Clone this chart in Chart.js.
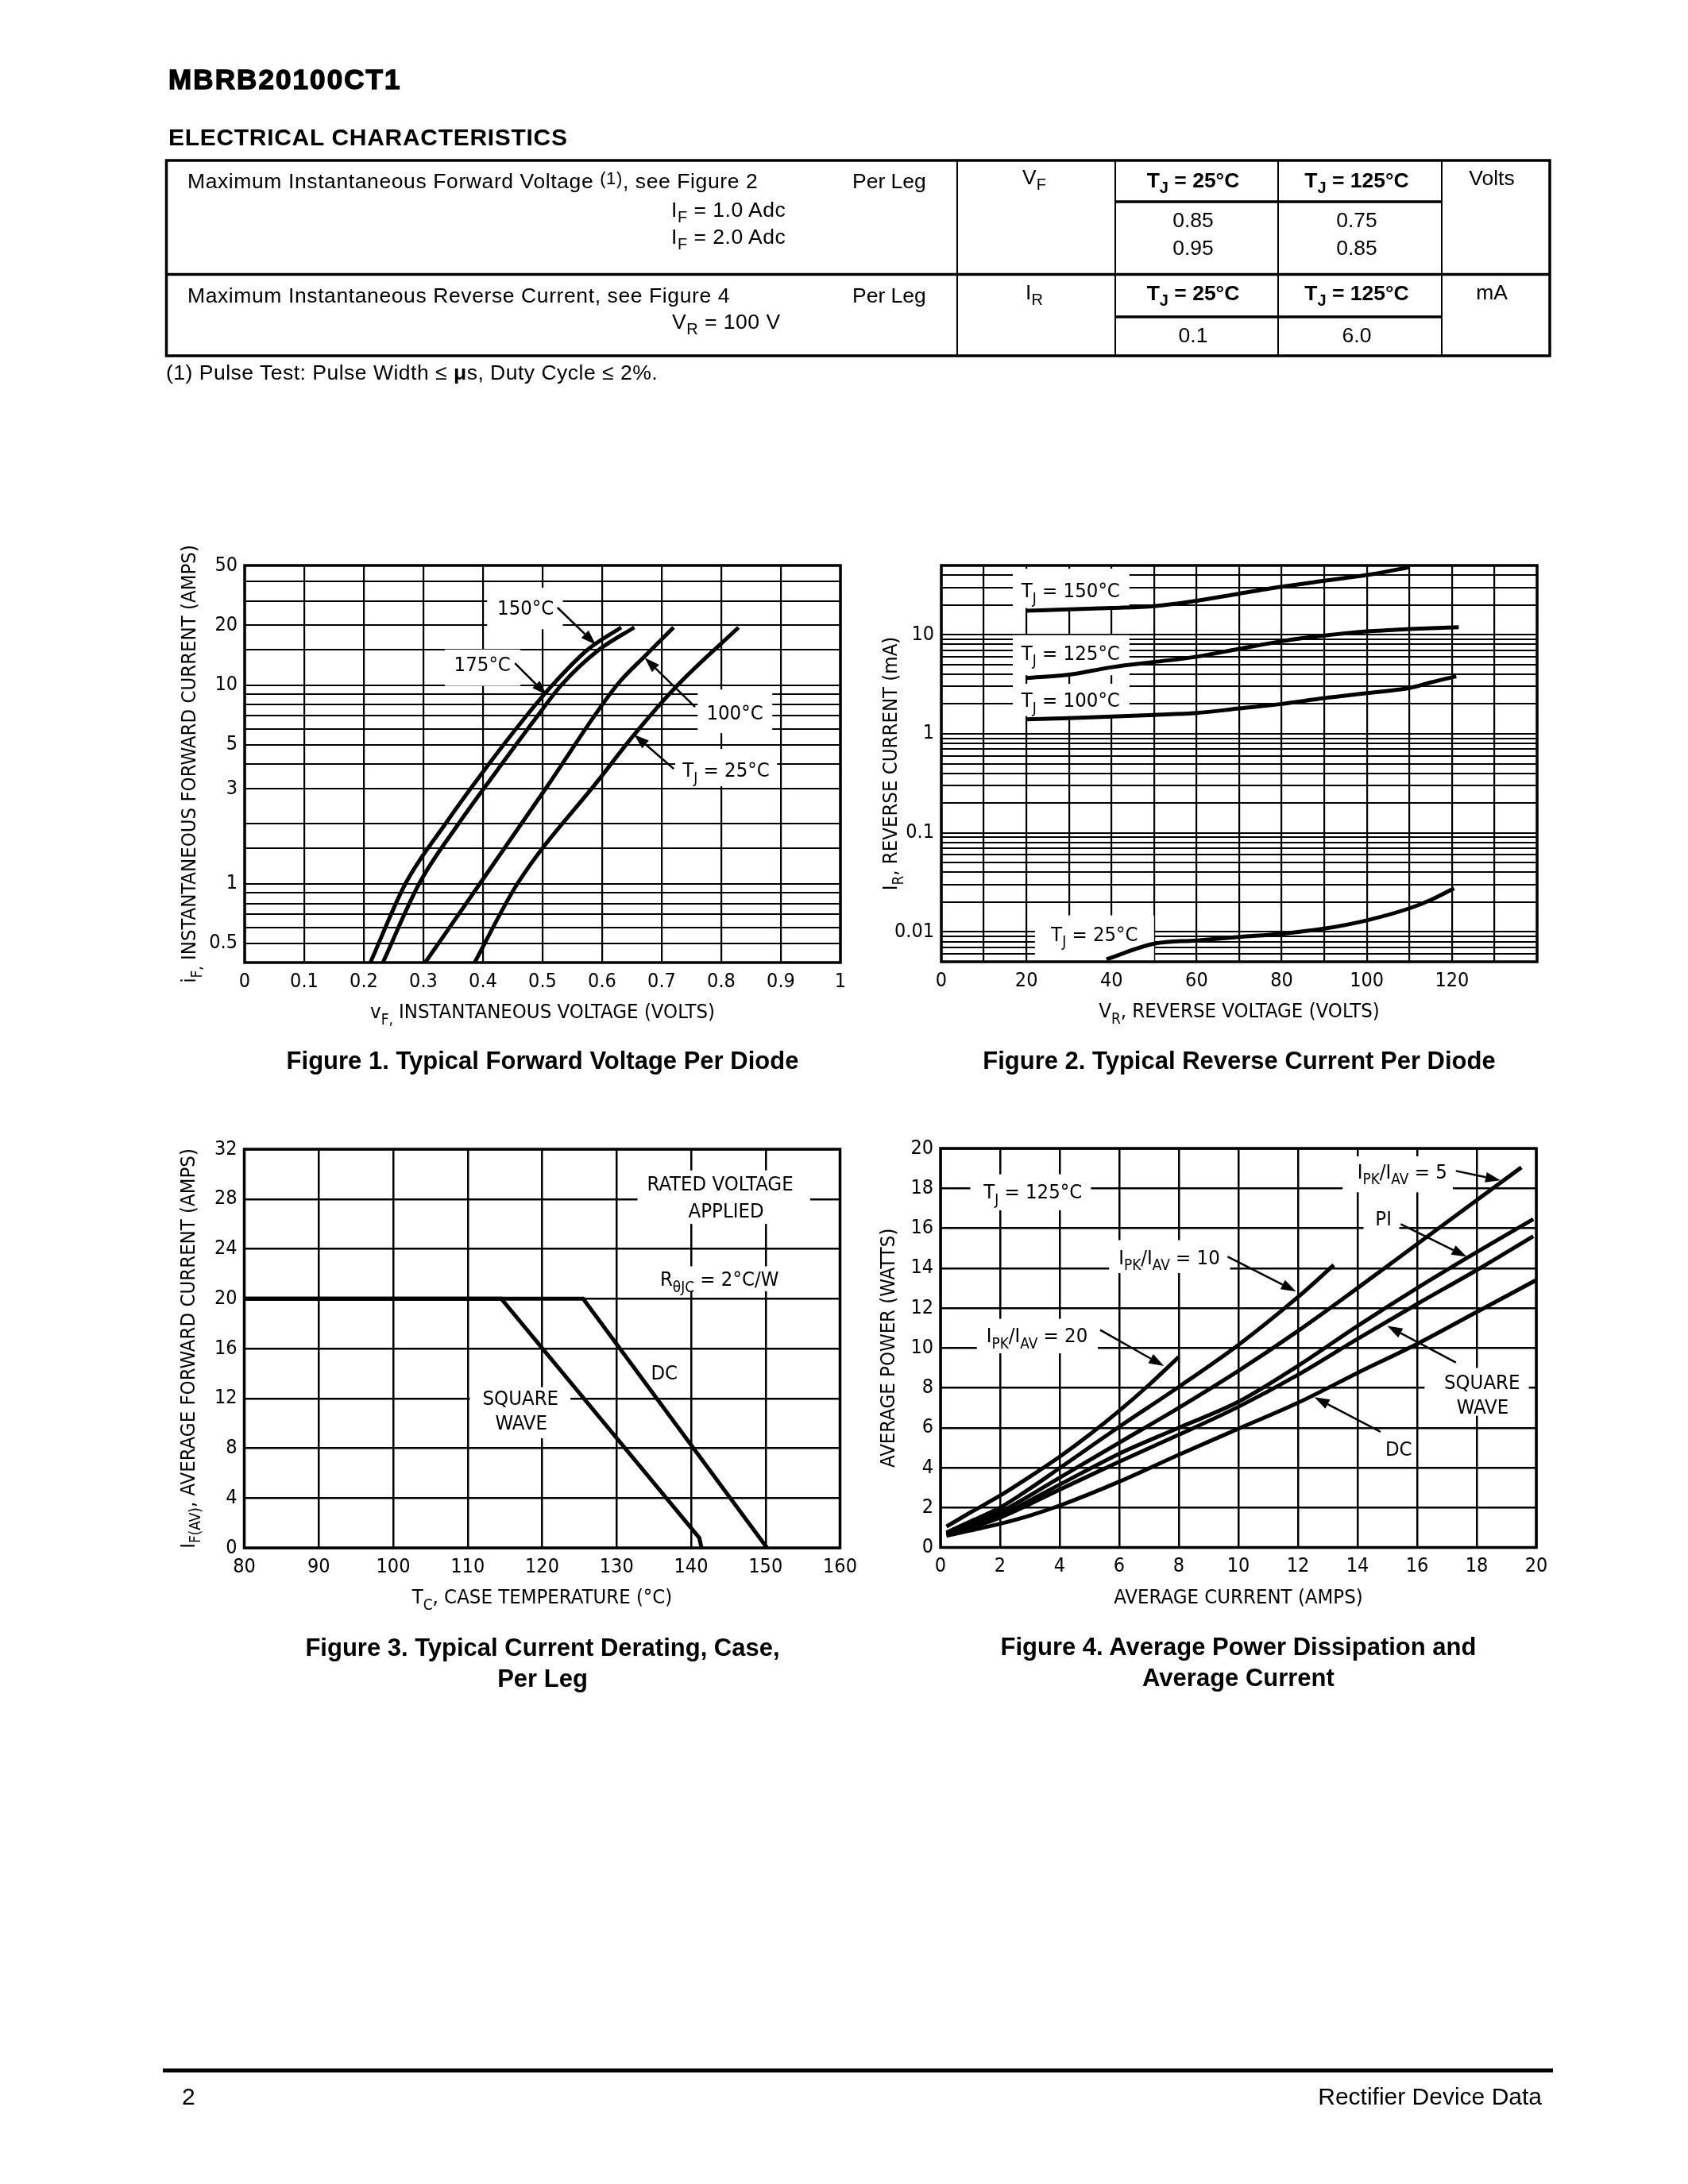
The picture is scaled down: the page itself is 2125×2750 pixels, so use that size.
<!DOCTYPE html>
<html>
<head>
<meta charset="utf-8">
<script src="https://cdn.jsdelivr.net/npm/chart.js@4.4.0/dist/chart.umd.min.js"></script>
<style>
html, body { margin: 0; padding: 0; background: #fff; }
#page { position: relative; width: 2125px; height: 2750px; overflow: hidden; background: #fff; }
#page canvas { position: absolute; }
#page svg { position: absolute; left: 0; top: 0; }
#page svg text { font-family: "Liberation Sans", Arial, Helvetica, sans-serif; fill: #000; }
</style>
</head>
<body>
<div id="page">
<canvas id="fig1"></canvas>
<canvas id="fig2"></canvas>
<canvas id="fig3"></canvas>
<canvas id="fig4"></canvas>
<svg width="2125" height="2750" viewBox="0 0 2125 2750">
  <text x="212" y="112" font-size="35" font-weight="bold" letter-spacing="2.1" stroke="#000" stroke-width="1.4">MBRB20100CT1</text>
  <text x="212" y="182.5" font-size="30" font-weight="bold" letter-spacing="0.7">ELECTRICAL CHARACTERISTICS</text>

  <g stroke="#000" fill="none">
    <rect x="209.5" y="202" width="1741.5" height="246" stroke-width="3.5"/>
    <line x1="209.5" y1="345.5" x2="1951" y2="345.5" stroke-width="3.5"/>
    <line x1="1205" y1="202" x2="1205" y2="448" stroke-width="2"/>
    <line x1="1404" y1="202" x2="1404" y2="448" stroke-width="2"/>
    <line x1="1609" y1="202" x2="1609" y2="448" stroke-width="2"/>
    <line x1="1815" y1="202" x2="1815" y2="448" stroke-width="2"/>
    <line x1="1404" y1="254" x2="1815" y2="254" stroke-width="3.5"/>
    <line x1="1404" y1="399" x2="1815" y2="399" stroke-width="3.5"/>
  </g>

  <g font-size="26.5">
    <text x="236" y="237" letter-spacing="0.6">Maximum Instantaneous Forward Voltage <tspan font-size="22" dy="-5">(1)</tspan><tspan dy="5">, see Figure 2</tspan></text>
    <text x="1073" y="237">Per Leg</text>
    <text x="845" y="273" letter-spacing="0.5">I<tspan font-size="20" dy="7">F</tspan><tspan dy="-7"> = 1.0 Adc</tspan></text>
    <text x="845" y="307" letter-spacing="0.5">I<tspan font-size="20" dy="7">F</tspan><tspan dy="-7"> = 2.0 Adc</tspan></text>
    <text x="1302" y="232" text-anchor="middle">V<tspan font-size="20" dy="7">F</tspan></text>
    <text x="1502" y="236" text-anchor="middle" font-weight="bold">T<tspan font-size="20" dy="7">J</tspan><tspan dy="-7"> = 25°C</tspan></text>
    <text x="1708" y="236" text-anchor="middle" font-weight="bold">T<tspan font-size="20" dy="7">J</tspan><tspan dy="-7"> = 125°C</tspan></text>
    <text x="1878" y="233" text-anchor="middle">Volts</text>
    <text x="1502" y="286" text-anchor="middle">0.85</text>
    <text x="1502" y="321" text-anchor="middle">0.95</text>
    <text x="1708" y="286" text-anchor="middle">0.75</text>
    <text x="1708" y="321" text-anchor="middle">0.85</text>

    <text x="236" y="381" letter-spacing="0.6">Maximum Instantaneous Reverse Current, see Figure 4</text>
    <text x="1073" y="381">Per Leg</text>
    <text x="846" y="414" letter-spacing="0.5">V<tspan font-size="20" dy="7">R</tspan><tspan dy="-7"> = 100 V</tspan></text>
    <text x="1302" y="377" text-anchor="middle">I<tspan font-size="20" dy="7">R</tspan></text>
    <text x="1502" y="378" text-anchor="middle" font-weight="bold">T<tspan font-size="20" dy="7">J</tspan><tspan dy="-7"> = 25°C</tspan></text>
    <text x="1708" y="378" text-anchor="middle" font-weight="bold">T<tspan font-size="20" dy="7">J</tspan><tspan dy="-7"> = 125°C</tspan></text>
    <text x="1878" y="377" text-anchor="middle">mA</text>
    <text x="1502" y="431" text-anchor="middle">0.1</text>
    <text x="1708" y="431" text-anchor="middle">6.0</text>

    <text x="209" y="478" letter-spacing="0.5">(1) Pulse Test: Pulse Width ≤ <tspan font-weight="bold">μ</tspan>s, Duty Cycle ≤ 2%.</text>
  </g>

  <g font-size="31" font-weight="bold" text-anchor="middle">
    <text x="683" y="1346">Figure 1. Typical Forward Voltage Per Diode</text>
    <text x="1560" y="1346">Figure 2. Typical Reverse Current Per Diode</text>
    <text x="683" y="2085">Figure 3. Typical Current Derating, Case,</text>
    <text x="683" y="2124">Per Leg</text>
    <text x="1559" y="2084">Figure 4. Average Power Dissipation and</text>
    <text x="1559" y="2123">Average Current</text>
  </g>

  <line x1="205" y1="2607" x2="1955" y2="2607" stroke="#000" stroke-width="5"/>
  <text x="229" y="2650" font-size="30">2</text>
  <text x="1941" y="2650" font-size="30" text-anchor="end">Rectifier Device Data</text>
</svg>
</div>

<script>
// ---------- Figure 1: forward voltage (V) vs forward current (A) ----------
const vf175 = [0.211, 0.270, 0.337, 0.397, 0.469, 0.518, 0.575, 0.632];
const if175 = [0.4, 1, 2, 3.55, 6.76, 10.1, 15, 19.5];
const vf150 = [0.232, 0.293, 0.359, 0.419, 0.488, 0.533, 0.594, 0.654];
const if150 = [0.4, 1, 2, 3.55, 6.76, 10.1, 15, 19.5];
const vf100 = [0.303, 0.395, 0.505, 0.625, 0.672, 0.720];
const if100 = [0.4, 1, 3, 10, 14, 19.5];
const vf25 = [0.386, 0.458, 0.598, 0.654, 0.727, 0.829];
const if25 = [0.4, 1, 3.44, 5.63, 10, 19.5];

const xTicks1 = [0, 0.1, 0.2, 0.3, 0.4, 0.5, 0.6, 0.7, 0.8, 0.9, 1];
const xTickLabels1 = ['0', '0.1', '0.2', '0.3', '0.4', '0.5', '0.6', '0.7', '0.8', '0.9', '1'];
const yGrid1 = [0.4, 0.5, 0.6, 0.7, 0.79, 0.9, 1, 1.5, 2, 3, 4, 5, 6, 7, 8, 9, 10, 15, 20, 26.5, 33.4, 40];
const yTicks1 = [0.5, 1, 3, 5, 10, 20, 40];
const yTickLabels1 = ['0.5', '1', '3', '5', '10', '20', '50'];

// ---------- Figure 2: reverse voltage (V) vs reverse current (mA) ----------
const vr150 = [20, 30, 40, 50, 60, 70, 80, 90, 100, 110];
const ir150 = [17.5, 18.0, 18.6, 19.4, 22, 26, 30.5, 35, 40, 48];
const vr125 = [20, 30, 40, 50, 60, 70, 80, 90, 100, 110, 121.6];
const ir125 = [3.65, 3.95, 4.7, 5.3, 6.0, 7.2, 8.6, 9.8, 10.8, 11.4, 11.9];
const vr100 = [20, 30, 40, 50, 60, 70, 80, 90, 100, 110, 115, 121];
const ir100 = [1.40, 1.44, 1.49, 1.55, 1.62, 1.80, 2.0, 2.29, 2.57, 2.9, 3.3, 3.8];
const vr25 = [38.8, 50, 60, 70, 80, 90, 100, 110, 115, 120.5];
const ir25 = [0.0053, 0.0076, 0.0082, 0.0089, 0.0096, 0.0108, 0.0131, 0.0173, 0.021, 0.0276];

const xTicks2 = [0, 10, 20, 30, 40, 50, 60, 70, 80, 90, 100, 110, 120, 130, 140];
const xTickLabels2 = ['0', '', '20', '', '40', '', '60', '', '80', '', '100', '', '120', '', ''];
const yGrid2 = [0.005, 0.006, 0.007, 0.008, 0.009, 0.01, 0.02, 0.03, 0.04, 0.05, 0.06, 0.07, 0.08, 0.09,
                0.1, 0.2, 0.3, 0.4, 0.5, 0.6, 0.7, 0.8, 0.9, 1, 2, 3, 4, 5, 6, 7, 8, 9, 10, 20, 30, 40, 50];
const yTicks2 = [0.01, 0.1, 1, 10];
const yTickLabels2 = ['0.01', '0.1', '1', '10'];

// ---------- Figure 3: case temperature (°C) vs average forward current (A) ----------
const tcSquare = [80, 114.5, 141.1, 141.4];
const ifSquare = [20, 20, 0.8, 0];
const tcDc = [80, 125.5, 150.2];
const ifDc = [20, 20, 0];

const xTicks3 = [80, 90, 100, 110, 120, 130, 140, 150, 160];
const yTicks3 = [0, 4, 8, 12, 16, 20, 24, 28, 32];

// ---------- Figure 4: average current (A) vs average power (W) ----------
const ia20 = [0.2, 1, 2, 3, 4, 5, 6, 7, 8];
const pw20 = [1.05, 1.75, 2.6, 3.55, 4.55, 5.65, 6.85, 8.15, 9.55];
const ia10 = [0.2, 1, 2, 3, 4, 6, 8, 10, 12, 13.2];
const pw10 = [0.75, 1.3, 2.0, 2.95, 3.98, 6.05, 8.05, 10.15, 12.55, 14.15];
const ia5 = [0.2, 2, 4, 6, 8, 10, 12, 14, 16, 18, 19.5];
const pw5 = [0.7, 1.78, 3.5, 5.25, 7.0, 8.85, 10.85, 13.0, 15.2, 17.4, 19.05];
const iaPi = [0.2, 2, 4, 6, 8, 10, 12, 14, 16, 18, 19.9];
const pwPi = [0.65, 1.6, 3.15, 4.7, 6.0, 7.3, 9.1, 11.1, 13.0, 14.8, 16.45];
const iaSq = [0.2, 2, 4, 6, 8, 10, 12, 14, 16, 18, 19.9];
const pwSq = [0.62, 1.5, 2.9, 4.3, 5.65, 7.05, 8.65, 10.45, 12.2, 13.9, 15.6];
const iaDc = [0.2, 1, 2, 3, 4, 6, 8, 10, 12, 14, 16, 18, 20];
const pwDc = [0.58, 0.85, 1.19, 1.6, 2.1, 3.3, 4.65, 5.95, 7.25, 8.75, 10.2, 11.8, 13.4];

const xTicks4 = [0, 2, 4, 6, 8, 10, 12, 14, 16, 18, 20];
const yTicks4 = [0, 2, 4, 6, 8, 10, 12, 14, 16, 18, 20];

// ---------- drawing helpers ----------
const NARROW = '"Liberation Sans Narrow", "Arial Narrow", "DejaVu Sans Condensed", "Liberation Sans", sans-serif';
const TICK_SIZE = 25, NOTE_SIZE = 25.5, TITLE_SIZE = 25.5;
Chart.defaults.font.family = NARROW;
Chart.defaults.color = '#000';

// text with {subscript} parts
function richText(ctx, src, x, y, size, align) {
  const segs = src.split(/(\{[^}]*\})/).filter(s => s.length).map(s =>
    s[0] === '{' ? { t: s.slice(1, -1), sub: true } : { t: s, sub: false });
  let w = 0;
  segs.forEach(s => {
    ctx.font = (s.sub ? size * 0.74 : size) + 'px ' + NARROW;
    s.w = ctx.measureText(s.t).width;
    w += s.w;
  });
  let cx = align === 'center' ? x - w / 2 : (align === 'right' ? x - w : x);
  ctx.textAlign = 'left';
  ctx.textBaseline = 'alphabetic';
  segs.forEach(s => {
    ctx.font = (s.sub ? size * 0.74 : size) + 'px ' + NARROW;
    ctx.fillText(s.t, cx, y + (s.sub ? size * 0.3 : 0));
    cx += s.w;
  });
}

const notesPlugin = {
  id: 'notes',
  beforeDatasetsDraw(chart, args, o) {
    const { ctx, scales: { x, y } } = chart;
    ctx.save();
    ctx.fillStyle = '#fff';
    (o.boxes || []).forEach(b => {
      const x0 = x.getPixelForValue(b[0]), x1 = x.getPixelForValue(b[1]);
      const y0 = y.getPixelForValue(b[2]), y1 = y.getPixelForValue(b[3]);
      ctx.fillRect(Math.min(x0, x1), Math.min(y0, y1), Math.abs(x1 - x0), Math.abs(y1 - y0));
    });
    ctx.restore();
  },
  afterDatasetsDraw(chart, args, o) {
    const { ctx, chartArea: ca, scales: { x, y } } = chart;
    ctx.save();
    ctx.fillStyle = '#000';
    ctx.strokeStyle = '#000';
    ctx.lineWidth = 3.5;
    ctx.strokeRect(ca.left, ca.top, ca.right - ca.left, ca.bottom - ca.top);

    (o.labels || []).forEach(l => {
      richText(ctx, l[2], x.getPixelForValue(l[0]), y.getPixelForValue(l[1]) + NOTE_SIZE * 0.36, NOTE_SIZE, 'center');
    });

    ctx.lineWidth = 2.5;
    (o.arrows || []).forEach(a => {
      const x0 = x.getPixelForValue(a[0]), y0 = y.getPixelForValue(a[1]);
      const x1 = x.getPixelForValue(a[2]), y1 = y.getPixelForValue(a[3]);
      const ang = Math.atan2(y1 - y0, x1 - x0), c = Math.cos(ang), s = Math.sin(ang);
      const bx = x1 - 19 * c, by = y1 - 19 * s;
      ctx.beginPath(); ctx.moveTo(x0, y0); ctx.lineTo(bx, by); ctx.stroke();
      ctx.beginPath();
      ctx.moveTo(x1, y1);
      ctx.lineTo(bx + 6.5 * s, by - 6.5 * c);
      ctx.lineTo(bx - 6.5 * s, by + 6.5 * c);
      ctx.closePath(); ctx.fill();
    });

    richText(ctx, o.xTitle, (ca.left + ca.right) / 2, ca.bottom + 70, TITLE_SIZE, 'center');
    ctx.translate(ca.left - o.yGap, (ca.top + ca.bottom) / 2);
    ctx.rotate(-Math.PI / 2);
    richText(ctx, o.yTitle, 0, 0, TITLE_SIZE, 'center');
    ctx.restore();
  }
};

function series(xs, ys, label, extra) {
  return Object.assign({
    label: label,
    data: xs.map((v, i) => ({ x: v, y: ys[i] })),
    borderColor: '#000',
    borderWidth: 5,
    pointRadius: 0,
    fill: false,
    cubicInterpolationMode: 'monotone'
  }, extra || {});
}

function axis(type, min, max, vals, labels, gridVals, gridWidth) {
  return {
    type: type, min: min, max: max,
    afterBuildTicks: s => { s.ticks = (gridVals || vals).map(v => ({ value: v })); },
    grid: { color: '#000', lineWidth: gridWidth, drawTicks: false },
    border: { display: false },
    ticks: {
      autoSkip: false, maxRotation: 0, padding: 9, color: '#000',
      font: { size: TICK_SIZE },
      callback: v => { const i = vals.indexOf(v); return i < 0 ? '' : labels[i]; }
    }
  };
}

function makeChart(id, g, xAxis, yAxis, datasets, notes) {
  const cv = document.getElementById(id);
  cv.width = g.w; cv.height = g.h;
  cv.style.left = g.x + 'px'; cv.style.top = g.y + 'px';
  const yW = g.L - g.x, xH = g.y + g.h - g.B;
  xAxis.afterFit = s => { s.height = xH; };
  yAxis.afterFit = s => { s.width = yW; };
  return new Chart(cv, {
    type: 'line',
    data: { datasets: datasets },
    options: {
      responsive: false, animation: false, devicePixelRatio: 1,
      layout: { padding: { left: 0, top: g.T - g.y, right: g.x + g.w - g.R, bottom: 0 } },
      plugins: { legend: { display: false }, tooltip: { enabled: false }, notes: notes },
      scales: { x: xAxis, y: yAxis }
    },
    plugins: [notesPlugin]
  });
}

const str = a => a.map(String);

// Figure 1
makeChart('fig1', { x: 170, y: 680, w: 920, h: 640, L: 308, R: 1058, T: 712, B: 1212 },
  axis('linear', 0, 1, xTicks1, xTickLabels1, null, 2.2),
  axis('logarithmic', 0.4, 40, yTicks1, yTickLabels1, yGrid1, 2),
  [series(vf175, if175, '175°C'), series(vf150, if150, '150°C'),
   series(vf100, if100, '100°C'), series(vf25, if25, 'TJ = 25°C')],
  {
    boxes: [[0.407, 0.534, 19.1, 30.9], [0.336, 0.463, 9.9, 15.1], [0.7604, 0.8857, 5.72, 9.48], [0.7227, 0.8937, 3.09, 4.76]],
    labels: [[0.4716, 24.5, '150°C'], [0.399, 12.8, '175°C'], [0.8227, 7.3, '100°C'], [0.808, 3.75, 'T{J} = 25°C']],
    arrows: [[0.525, 24.55, 0.5893, 15.97], [0.4537, 12.86, 0.5071, 8.9], [0.756, 7.76, 0.6716, 13.7], [0.7204, 3.78, 0.6537, 5.63]],
    xTitle: 'v{F,} INSTANTANEOUS VOLTAGE (VOLTS)',
    yTitle: 'i{F,} INSTANTANEOUS FORWARD CURRENT (AMPS)',
    yGap: 62
  });

// Figure 2
makeChart('fig2', { x: 1060, y: 680, w: 920, h: 640, L: 1185, R: 1935, T: 712, B: 1211 },
  axis('linear', 0, 140, xTicks2, xTickLabels2, null, 2.2),
  axis('logarithmic', 0.005, 50, yTicks2, yTickLabels2, yGrid2, 2),
  [series(vr150, ir150, 'TJ = 150°C'), series(vr125, ir125, 'TJ = 125°C'),
   series(vr100, ir100, 'TJ = 100°C'), series(vr25, ir25, 'TJ = 25°C')],
  {
    boxes: [[16.8, 44.2, 18.6, 46.4], [16.8, 44.2, 3.9, 9.9], [16.8, 44.2, 1.51, 3.2], [22, 50, 0.005, 0.0147]],
    labels: [[30.4, 28.1, 'T{J} = 150°C'], [30.4, 6.62, 'T{J} = 125°C'], [30.4, 2.2, 'T{J} = 100°C'], [36, 0.0096, 'T{J} = 25°C']],
    arrows: [],
    xTitle: 'V{R}, REVERSE VOLTAGE (VOLTS)',
    yTitle: 'I{R}, REVERSE CURRENT (mA)',
    yGap: 56
  });

// Figure 3
makeChart('fig3', { x: 170, y: 1410, w: 920, h: 640, L: 307.5, R: 1057.5, T: 1447, B: 1949 },
  axis('linear', 80, 160, xTicks3, str(xTicks3), null, 2.5),
  axis('linear', 0, 32, yTicks3, str(yTicks3), null, 2.5),
  [series(tcSquare, ifSquare, 'SQUARE WAVE', { cubicInterpolationMode: 'default', tension: 0 }),
   series(tcDc, ifDc, 'DC', { cubicInterpolationMode: 'default', tension: 0 })],
  {
    boxes: [[132.8, 156, 26.0, 30.3], [135, 152.3, 20.6, 22.6], [110.3, 123.8, 8.8, 12.9]],
    labels: [[143.9, 29.3, 'RATED VOLTAGE'], [144.7, 27.1, 'APPLIED'], [143.8, 21.6, 'R{θJC} = 2°C/W'],
             [136.4, 14.1, 'DC'], [117.1, 12.06, 'SQUARE'], [117.2, 10.1, 'WAVE']],
    arrows: [],
    xTitle: 'T{C}, CASE TEMPERATURE (°C)',
    yTitle: 'I{F(AV)}, AVERAGE FORWARD CURRENT (AMPS)',
    yGap: 63
  });

// Figure 4
makeChart('fig4', { x: 1060, y: 1410, w: 920, h: 640, L: 1184, R: 1934, T: 1446, B: 1948.5 },
  axis('linear', 0, 20, xTicks4, str(xTicks4), null, 2.5),
  axis('linear', 0, 20, yTicks4, str(yTicks4), null, 2.5),
  [series(ia20, pw20, 'IPK/IAV = 20'), series(ia10, pw10, 'IPK/IAV = 10'), series(ia5, pw5, 'IPK/IAV = 5'),
   series(iaPi, pwPi, 'PI'), series(iaSq, pwSq, 'SQUARE WAVE'), series(iaDc, pwDc, 'DC')],
  {
    boxes: [[1.0, 5.05, 16.9, 18.7], [13.5, 17.2, 17.8, 19.6], [14.2, 15.4, 15.8, 17.0],
            [5.66, 9.72, 13.75, 15.4], [1.22, 5.28, 9.73, 11.46], [16.25, 19.75, 6.6, 9.0]],
    labels: [[3.1, 17.86, 'T{J} = 125°C'], [15.5, 18.87, 'I{PK}/I{AV} = 5'], [14.87, 16.5, 'PI'],
             [7.68, 14.57, 'I{PK}/I{AV} = 10'], [3.24, 10.64, 'I{PK}/I{AV} = 20'],
             [18.18, 8.3, 'SQUARE'], [18.2, 7.07, 'WAVE'], [15.38, 4.97, 'DC']],
    arrows: [[17.3, 18.87, 18.8, 18.4], [15.45, 16.2, 17.67, 14.57], [9.64, 14.57, 11.94, 12.83],
             [5.36, 10.9, 7.5, 9.09], [17.3, 9.27, 15.0, 11.1], [14.77, 5.8, 12.55, 7.53]],
    xTitle: 'AVERAGE CURRENT (AMPS)',
    yTitle: 'AVERAGE POWER (WATTS)',
    yGap: 58
  });
</script>
</body>
</html>
